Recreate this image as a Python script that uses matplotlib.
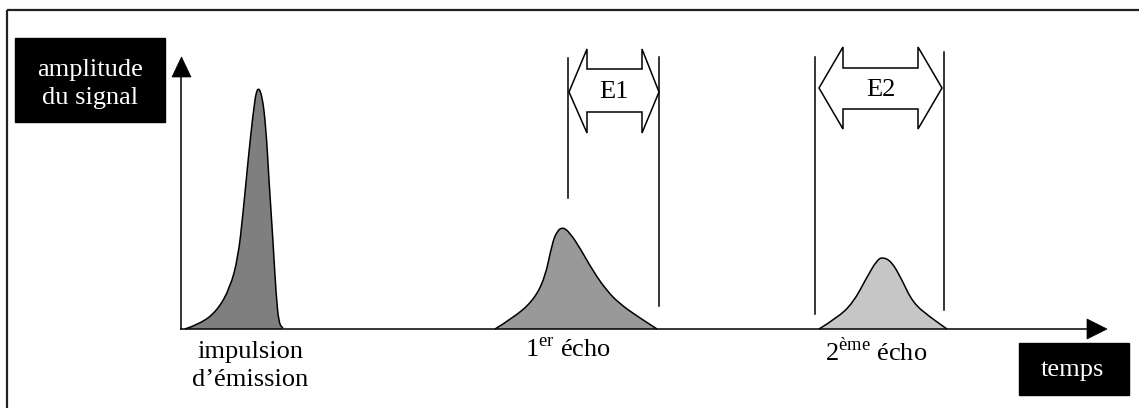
import matplotlib.pyplot as plt
from matplotlib.patches import Rectangle, Polygon, PathPatch
from matplotlib.path import Path

plt.rcParams['font.family'] = ['Liberation Serif', 'DejaVu Serif']
plt.rcParams['mathtext.fontset'] = 'custom'
plt.rcParams['mathtext.rm'] = 'Liberation Serif'

# Formes des impulsions (x en pixels, hauteur au-dessus de la ligne de base)
impulsion_x = [185, 200, 217, 230, 238, 243, 248, 253, 257, 262, 266, 269, 273, 276, 279, 283]
impulsion_h = [0, 5, 18, 41, 71, 115, 168, 215, 243, 235, 201, 148, 88, 35, 5, 1]

echo1_x = [495, 513, 533, 545, 552, 557, 563, 570, 580, 593, 607, 620, 637, 657]
echo1_h = [0, 11, 28, 51, 85, 98, 102, 96, 81, 58, 38, 25, 13, 0]

echo2_x = [819, 837, 853, 867, 877, 883, 892, 902, 913, 930, 947]
echo2_h = [0, 11, 26, 52, 69, 72, 67, 49, 26, 12, 0]

couleurs = ['#7f7f7f', '#999999', '#c6c6c6']
etiquettes = ['impulsion\nd\u2019émission', r'1$^{\mathrm{er}}$ écho', r'2$^{\mathrm{ème}}$ écho']

BASE = 329
FS = 19

fig = plt.figure(figsize=(11.39, 4.08), dpi=100)
ax = fig.add_axes([0, 0, 1, 1])
ax.set_xlim(0, 1139)
ax.set_ylim(408, 0)
ax.axis('off')

# cadre
ax.add_patch(Rectangle((7, 10), 1140, 400, fill=False, ec='#222222', lw=1.6))


def courbe_lisse(pts):
    # courbe de Bézier quadratique passant par les milieux des points relevés
    verts = [pts[0]]
    codes = [Path.MOVETO]
    for i in range(1, len(pts) - 1):
        mx = (pts[i][0] + pts[i + 1][0]) / 2
        my = (pts[i][1] + pts[i + 1][1]) / 2
        verts += [pts[i], (mx, my)]
        codes += [Path.CURVE3, Path.CURVE3]
    verts.append(pts[-1])
    codes.append(Path.LINETO)
    return verts, codes


# impulsions
for xs, hs, c in zip([impulsion_x, echo1_x, echo2_x], [impulsion_h, echo1_h, echo2_h], couleurs):
    pts = [(x, BASE - h) for x, h in zip(xs, hs)]
    verts, codes = courbe_lisse(pts)
    fond = Path(verts + [(xs[-1], BASE), (xs[0], BASE), (0, 0)],
                codes + [Path.LINETO, Path.LINETO, Path.CLOSEPOLY])
    ax.add_patch(PathPatch(fond, fc=c, ec='none'))
    ax.add_patch(PathPatch(Path(verts, codes), fc='none', ec='black', lw=1.1))

# axes avec flèches
ax.plot([181, 181], [BASE, 76], color='black', lw=1.1)
ax.add_patch(Polygon([(172, 77), (191, 77), (181.5, 57)], closed=True, fc='black', ec='black', lw=0.5))
ax.plot([181, 1088], [BASE, BASE], color='black', lw=1.1)
ax.add_patch(Polygon([(1087, 319), (1087, 339), (1107, 329)], closed=True, fc='black', ec='black', lw=0.5))

# lignes verticales des fenêtres
for x, y0, y1 in [(568, 58, 198), (659, 57, 306), (815, 57, 314), (944, 52, 310)]:
    ax.plot([x, x], [y0, y1], color='black', lw=1.1)


# doubles flèches
def double_fleche(xg, xb1, xb2, xd, yc, ht, hb, st, sb, texte):
    pts = [(xg, yc), (xb1, ht), (xb1, st), (xb2, st), (xb2, ht), (xd, yc),
           (xb2, hb), (xb2, sb), (xb1, sb), (xb1, hb)]
    ax.add_patch(Polygon(pts, closed=True, fc='white', ec='black', lw=1.1))
    ax.text((xg + xd) / 2, (st + sb) / 2 + 2, texte, ha='center', va='center', fontsize=FS)


double_fleche(569, 587, 642, 659, 92, 49, 133, 69, 112, 'E1')
double_fleche(819, 843, 918, 942, 88, 47, 129, 68, 109, 'E2')

# étiquettes
ax.text(250, 366, etiquettes[0], ha='center', va='center', fontsize=FS, linespacing=1.35)
ax.text(568, 350, etiquettes[1], ha='center', va='center', fontsize=FS)
ax.text(876, 352, etiquettes[2], ha='center', va='center', fontsize=FS)

# boîtes noires
ax.add_patch(Rectangle((15, 38), 150, 84, fc='black', ec='black'))
ax.text(90, 84, 'amplitude\ndu signal', ha='center', va='center', fontsize=FS,
        color='white', linespacing=1.4)
ax.add_patch(Rectangle((1019, 343), 110, 52, fc='black', ec='black'))
ax.text(1072, 370, 'temps', ha='center', va='center', fontsize=FS, color='white')

fig.savefig('out.png', dpi=100)
